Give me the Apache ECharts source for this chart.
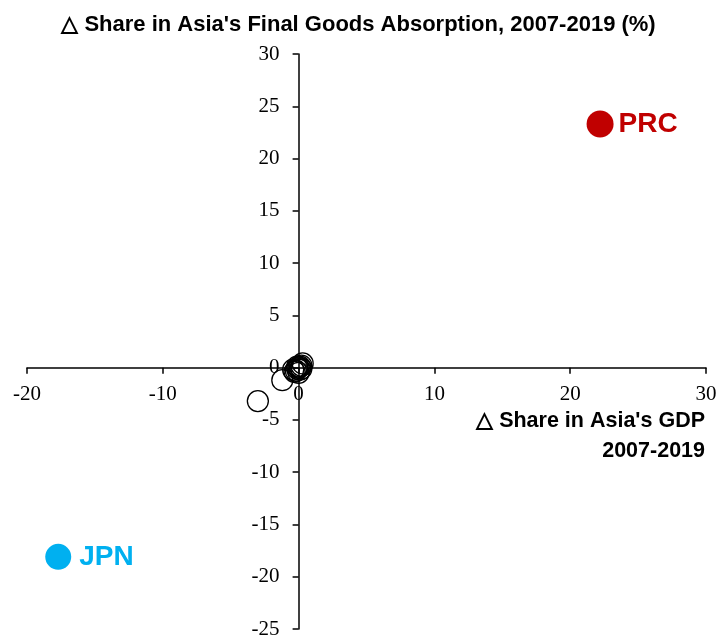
<!DOCTYPE html>
<html>
<head>
<meta charset="utf-8">
<script src="https://cdn.jsdelivr.net/npm/echarts@6/dist/echarts.min.js"></script>
<style>
  html, body { margin: 0; padding: 0; background: #fff; }
  #chart { width: 717px; height: 637px; }
</style>
</head>
<body>
<div id="chart"></div>
<script>
// Change in share of Asia's GDP (x) vs change in share of Asia's final goods absorption (y), 2007-2019
const xTicks = [-20, -10, 0, 10, 20, 30];
const yTicks = [-25, -20, -15, -10, -5, 0, 5, 10, 15, 20, 25, 30];

const prcPoint = [22.2, 23.3];
const jpnPoint = [-17.7, -18.1];

const otherX = [-3.0, -1.2, 0.3, 0.2, 0.1, 0.0, -0.1, -0.2, -0.3, 0.1, -0.1, 0.2, -0.4, 0.0];
const otherY = [-3.2, -1.2, 0.4, 0.2, 0.1, 0.0, -0.1, -0.3, -0.4, -0.2, 0.1, -0.1, -0.2, -0.5];

const title = "\u25B3 Share in Asia's Final Goods Absorption, 2007-2019 (%)";
const xNameLines = ["\u25B3 Share in Asia's GDP", "2007-2019"];

const others = otherX.map((x, i) => [x, otherY[i]]);

const chart = echarts.init(document.getElementById('chart'), null, { renderer: 'canvas' });

const serifLabel = { fontFamily: 'Liberation Serif, Times New Roman, serif', fontSize: 21, color: '#000' };
const sans = 'Liberation Sans, Arial, sans-serif';

chart.setOption({
  backgroundColor: '#fff',
  animation: false,
  title: {
    text: title,
    left: 'center',
    top: 9,
    textStyle: { fontFamily: sans, fontSize: 22, fontWeight: 'bold', color: '#000' }
  },
  grid: { left: 27, right: 11, top: 54, bottom: 8, containLabel: false, outerBoundsMode: 'none' },
  xAxis: {
    type: 'value',
    min: xTicks[0],
    max: xTicks[xTicks.length - 1],
    interval: 10,
    splitLine: { show: false },
    axisLine: { onZero: false, lineStyle: { color: '#000', width: 1.5 } },
    axisTick: { show: true, length: 6, inside: false, lineStyle: { color: '#000', width: 1.5 } },
    axisLabel: Object.assign({ margin: 16 }, serifLabel),
  },
  yAxis: {
    type: 'value',
    min: yTicks[0],
    max: yTicks[yTicks.length - 1],
    interval: 5,
    splitLine: { show: false },
    axisLine: { onZero: false, lineStyle: { color: '#000', width: 1.5 } },
    axisTick: { show: true, length: 6, inside: false, lineStyle: { color: '#000', width: 1.5 } },
    axisLabel: Object.assign({ margin: 19 }, serifLabel),
  },
  graphic: xNameLines.map((line, i) => ({
    type: 'text',
    right: 12,
    top: 410 + i * 30,
    style: {
      text: line,
      fill: '#000',
      font: 'bold 21.5px "Liberation Sans", Arial, sans-serif'
    }
  })),
  series: [
    {
      name: 'Others',
      type: 'scatter',
      data: others,
      symbol: 'circle',
      symbolSize: 21,
      itemStyle: { color: 'rgba(255,255,255,0)', borderColor: '#000', borderWidth: 1.3, opacity: 1 },
      z: 3
    },
    {
      name: 'PRC',
      type: 'scatter',
      data: [prcPoint],
      symbolSize: 27,
      itemStyle: { color: '#C00000', opacity: 1 },
      label: {
        show: true, position: 'right', distance: 5, formatter: 'PRC',
        color: '#C00000', fontFamily: sans, fontSize: 28, fontWeight: 'bold'
      },
      z: 4
    },
    {
      name: 'JPN',
      type: 'scatter',
      data: [jpnPoint],
      symbolSize: 26,
      itemStyle: { color: '#00B0F0', opacity: 1 },
      label: {
        show: true, position: 'right', distance: 8, formatter: 'JPN',
        color: '#00B0F0', fontFamily: sans, fontSize: 28, fontWeight: 'bold'
      },
      z: 4
    }
  ]
});

// Move both axes so they cross at the origin (line, ticks and labels together).
const origin = chart.convertToPixel({ gridIndex: 0 }, [0, 0]);
const rect = chart.getModel().getComponent('grid', 0).coordinateSystem.getRect();
chart.setOption({
  xAxis: { offset: -(rect.y + rect.height - origin[1]) },
  yAxis: { offset: -(origin[0] - rect.x) }
});
</script>
</body>
</html>
